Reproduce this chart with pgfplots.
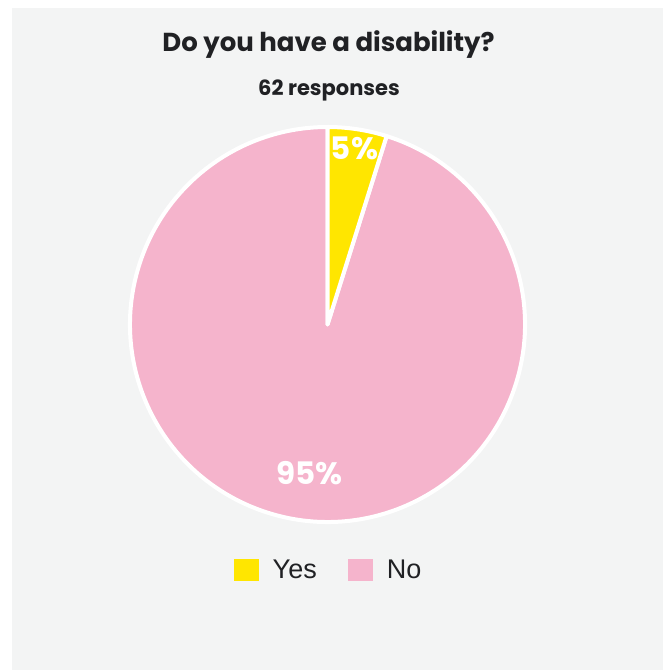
\documentclass[border=0pt]{standalone}
\usepackage{pgfplots}
\usepackage{pgfplotstable}
\pgfplotsset{compat=1.18}
\usepackage{fontspec}
\setmainfont{Liberation Sans}
\newfontfamily\pop{Poppins}
\definecolor{bg}{HTML}{F3F4F4}
\definecolor{yescol}{HTML}{FFE600}
\definecolor{nocol}{HTML}{F5B4CC}
\definecolor{txt}{HTML}{202124}

\pgfplotstableread{
label count
Yes 3
No 59
}\piedata
\pgfplotstablegetelem{0}{count}\of\piedata\let\cyes\pgfplotsretval
\pgfplotstablegetelem{1}{count}\of\piedata\let\cno\pgfplotsretval
\pgfmathsetmacro\total{\cyes+\cno}
\pgfmathsetmacro\ayes{360/\total*\cyes}
\pgfmathsetmacro\ano{360/\total*\cno}
\pgfmathtruncatemacro\pyes{round(100/\total*\cyes)}
\pgfmathtruncatemacro\pno{round(100/\total*\cno)}
\pgfmathsetmacro\myes{90-\ayes/2}
\pgfmathsetmacro\mno{90-\ayes-\ano/2}

\begin{document}
\begin{tikzpicture}[x=1bp,y=1bp]
\fill[white] (0,0) rectangle (670,670);
\fill[bg] (12,0) rectangle (663,662);
\node[anchor=base, text=txt, font=\pop\bfseries\fontsize{26bp}{30bp}\selectfont] at (328.5,618) {Do you have a disability?};
\node[anchor=base, text=txt, font=\pop\bfseries\fontsize{21bp}{25bp}\selectfont] at (329,574) {62 responses};
\begin{axis}[
  at={(327.5bp,345.5bp)}, anchor=center,
  scale only axis, width=395bp, height=395bp,
  xmin=-1, xmax=1, ymin=-1, ymax=1,
  hide axis, clip=false,
  legend columns=2,
  legend style={draw=none, fill=none, at={(0.5,-0.1215)}, anchor=center,
    font=\fontsize{27bp}{31bp}\selectfont, text=txt,
    /tikz/every even column/.append style={column sep=31bp},
    nodes={inner xsep=0bp, inner ysep=0bp}},
  legend image code/.code={\fill[#1] (0bp,-11bp) rectangle (25bp,11bp);},
  legend cell align=left,
]
\addlegendimage{fill=yescol, draw=none}
\addlegendentry{\hspace{14bp}Yes}
\addlegendimage{fill=nocol, draw=none}
\addlegendentry{\hspace{14bp}No}
\filldraw[fill=nocol, draw=white, line width=4bp, line join=round]
  (axis cs:0,0) -- ({axis cs:{cos(90-\ayes)},{sin(90-\ayes)}}) arc[start angle={90-\ayes}, end angle={90-\ayes-\ano}, radius=197.5bp] -- cycle;
\filldraw[fill=yescol, draw=white, line width=4bp, line join=round]
  (axis cs:0,0) -- (axis cs:0,1) arc[start angle=90, end angle={90-\ayes}, radius=197.5bp] -- cycle;
\node[text=white, font=\pop\bfseries\fontsize{31bp}{35bp}\selectfont] at ({axis cs:{0.9*cos(\myes)},{0.9*sin(\myes)}}) {\pyes\%};
\node[text=white, font=\pop\bfseries\fontsize{31bp}{35bp}\selectfont] at ({axis cs:{0.76*cos(\mno)+0.025},{0.76*sin(\mno)}}) {\pno\%};
\end{axis}
\end{tikzpicture}
\end{document}
